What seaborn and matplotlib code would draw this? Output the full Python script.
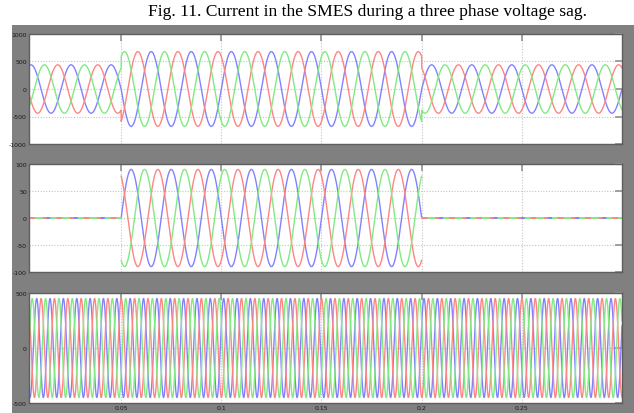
import numpy as np
import pandas as pd
import matplotlib
matplotlib.use("Agg")
import matplotlib.pyplot as plt
import seaborn as sns
from matplotlib.patches import Rectangle

# ---- values ----
title = "Fig. 11. Current in the SMES during a three phase voltage sag."
t_start, t_end = 0.004, 0.3
sag_times = [0.05, 0.2]                 # sag begins / ends (s)
phases = ["a", "b", "c"]
phase_colors = ["#8282ff", "#ff8585", "#82ea82"]   # blue, red, green
phase_shift = [0.0, 2 * np.pi / 3, -2 * np.pi / 3]

# panel 1 : line current (A), amplitude before / during / after sag
p1_amp = [440, 680, 440]
p1_freq = 50
# panel 2 : SMES current, amplitude before / during / after sag
p2_amp = [0, 90, 0]
p2_freq = 50
# panel 3 : converter current, constant amplitude
p3_amp = 450
p3_freq = 150

p1_yticks = [1000, 500, 0, -500, -1000]
p2_yticks = [100, 50, 0, -50, -100]
p3_yticks = [500, 0, -500]
xticks = [0.05, 0.1, 0.15, 0.2, 0.25]
xtick_labels = ["0.05", "0.1", "0.15", "0.2", "0.25"]

# ---- build waveforms ----
t = np.linspace(t_start, t_end, 12000)
seg = np.digitize(t, sag_times)          # 0 before, 1 during, 2 after
w1 = 2 * np.pi * p1_freq
w2 = 2 * np.pi * p2_freq
w3 = 2 * np.pi * p3_freq

rows = []
for k, ph in enumerate(phases):
    a1 = np.array(p1_amp)[seg]
    y1 = a1 * np.sin(w1 * t + phase_shift[k])
    a2 = np.array(p2_amp)[seg]
    y2 = a2 * np.sin(w2 * (t - sag_times[0]) + phase_shift[k])
    y3 = p3_amp * np.cos(w3 * (t - 0.0045) + np.pi - phase_shift[k])
    rows.append(pd.DataFrame({"t": t, "y": y1, "phase": ph, "panel": 1, "seg": seg}))
    rows.append(pd.DataFrame({"t": t, "y": y2, "phase": ph, "panel": 2, "seg": seg}))
    rows.append(pd.DataFrame({"t": t, "y": y3, "phase": ph, "panel": 3, "seg": seg}))
df = pd.concat(rows, ignore_index=True)

# ---- figure ----
sns.set_theme(style="white")
W, H = 634, 414
fig = plt.figure(figsize=(W / 100, H / 100), dpi=100, facecolor="white")
fig.patches.append(Rectangle((12 / W, 0), 1 - 12 / W, (H - 26) / H,
                             transform=fig.transFigure, facecolor="#808080",
                             edgecolor="none", zorder=-10))
fig.text(0.579, 1 - 11.5 / H, title, ha="center", va="center",
         fontsize=12.6, family=["Liberation Serif", "DejaVu Serif"], color="black")

left = 29 / W
width = (622 - 29) / W
boxes = [(35, 145), (165, 273), (294, 404)]
yticks_all = [p1_yticks, p2_yticks, p3_yticks]
ylims = [(-1000, 1000), (-100, 100), (-500, 500)]
zero_styles = {"c": "-", "b": (0, (3, 4)), "a": (5, (2, 12))}

for i, (top, bot) in enumerate(boxes):
    ax = fig.add_axes([left, (H - bot) / H, width, (bot - top) / H])
    ax.set_facecolor("white")
    sub = df[df.panel == i + 1]
    if i == 1:
        # live part of the SMES current
        for k, ph in enumerate(phases):
            d = sub[sub.phase == ph].copy()
            d.loc[d.seg != 1, "y"] = np.nan
            sns.lineplot(data=d, x="t", y="y", ax=ax, color=phase_colors[k],
                         lw=1.0, estimator=None, sort=False, legend=False)
        # idle parts: three overlapping zero lines, look dashed in the reference
        for ph in ["c", "b", "a"]:
            k = phases.index(ph)
            for s in (0, 2):
                d = sub[(sub.phase == ph) & (sub.seg == s)]
                sns.lineplot(data=d, x="t", y="y", ax=ax, color=phase_colors[k],
                             lw=1.4, linestyle=zero_styles[ph],
                             estimator=None, sort=False, legend=False)
    else:
        for k, ph in enumerate(phases):
            d = sub[sub.phase == ph]
            sns.lineplot(data=d, x="t", y="y", ax=ax, color=phase_colors[k],
                         lw=1.0, estimator=None, sort=False, legend=False)
    ax.set_xlim(t_start, t_end)
    ax.set_ylim(*ylims[i])
    ax.set_yticks(yticks_all[i])
    ax.set_yticklabels([str(v) for v in yticks_all[i]])
    ax.set_xticks(xticks)
    if i == 2:
        ax.set_xticklabels(xtick_labels)
    else:
        ax.set_xticklabels([])
    ax.set_xlabel("")
    ax.set_ylabel("")
    ax.grid(True, color="#c4c4c4", linestyle=(0, (1, 1.5)), lw=0.8)
    ax.set_axisbelow(True)
    ax.tick_params(axis="both", direction="in", length=5, width=1.3,
                   color="#9a9a9a", labelsize=4.5, labelcolor="#1a1a1a",
                   top=True, right=True, pad=1.5)
    for s in ax.spines.values():
        s.set_color("#5e5e5e")
        s.set_linewidth(1.0)

fig.savefig("out.png", dpi=100, facecolor="white")
